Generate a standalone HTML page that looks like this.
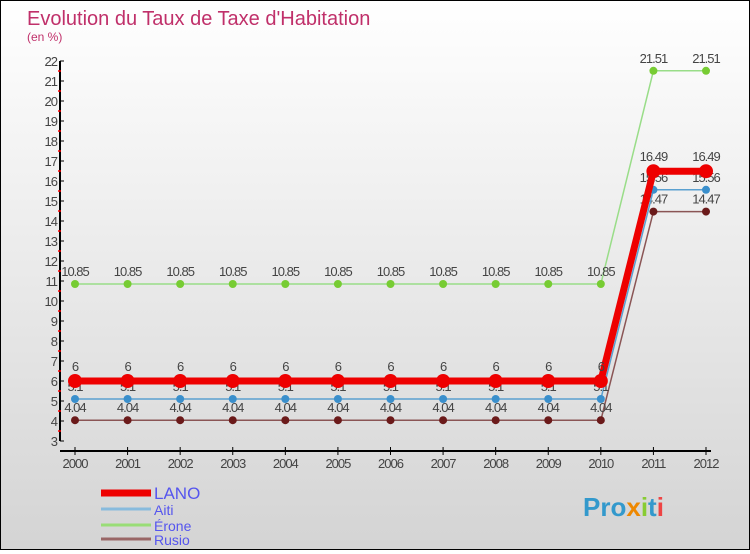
<!DOCTYPE html>
<html><head><meta charset="utf-8"><style>
body{margin:0;width:750px;height:550px;overflow:hidden;font-family:"Liberation Sans",sans-serif}
#wrap{position:relative;width:748px;height:548px;border:1px solid #000;background:linear-gradient(#fff,#d4d4d4)}
</style></head><body>
<div id="wrap">
<svg id="c" width="748" height="548">
<text x="26" y="24" font-size="20" fill="#c0306a">Evolution du Taux de Taxe d'Habitation</text>
<text x="26" y="40" font-size="12" fill="#c0306a">(en %)</text>
</svg>
</div>
<script>
const years=[2000,2001,2002,2003,2004,2005,2006,2007,2008,2009,2010,2011,2012];
const lano=[6,6,6,6,6,6,6,6,6,6,6,16.49,16.49];
const aiti=[5.1,5.1,5.1,5.1,5.1,5.1,5.1,5.1,5.1,5.1,5.1,15.56,15.56];
const erone=[10.85,10.85,10.85,10.85,10.85,10.85,10.85,10.85,10.85,10.85,10.85,21.51,21.51];
const rusio=[4.04,4.04,4.04,4.04,4.04,4.04,4.04,4.04,4.04,4.04,4.04,14.47,14.47];
const yTicks=[3,4,5,6,7,8,9,10,11,12,13,14,15,16,17,18,19,20,21,22];
const names=["LANO","Aiti","Érone","Rusio"];
const NS="http://www.w3.org/2000/svg",svg=document.getElementById('c');
const X=i=>74+i*(631/12), Y=v=>440-(v-3)*20;
function el(t,a,p){const e=document.createElementNS(NS,t);for(const k in a)e.setAttribute(k,a[k]);(p||svg).appendChild(e);return e;}
let e=el('line',{x1:59,y1:Y(22),x2:59,y2:Y(3),stroke:'#000','stroke-width':2});


e=el('line',{x1:59,y1:450,x2:710,y2:450,stroke:'#000','stroke-width':2});


yTicks.forEach(v=>{
 el('line',{x1:59,y1:Y(v),x2:63,y2:Y(v),stroke:'#000'});
 if(v<22)el('line',{x1:57,y1:Y(v+0.5),x2:60,y2:Y(v+0.5),stroke:'#f00','stroke-width':1.5});
 const t=el('text',{x:56,y:Y(v)+5,'font-size':13,fill:'#444','text-anchor':'end','letter-spacing':'-1'});
 t.textContent=v;
 
 
});
years.forEach((y,i)=>{
 el('line',{x1:X(i),y1:446,x2:X(i),y2:454,stroke:'#000'});
 const t=el('text',{x:X(i),y:467,'font-size':13,fill:'#444','text-anchor':'middle','letter-spacing':'-1'});
 t.textContent=y;
 
 
});
function series(d,color,lineColor,w,r,name,lblOff){
 const p=el('polyline',{points:d.map((v,i)=>X(i)+','+Y(v)).join(' '),fill:'none',stroke:lineColor,'stroke-width':w});
 
 
 d.forEach((v,i)=>{
  const c=el('circle',{cx:X(i),cy:Y(v),r:r,fill:color});
  
  
  const t=el('text',{x:X(i),y:Y(v)+lblOff,'font-size':13,fill:'#444','text-anchor':'middle','letter-spacing':'-1'});
  t.textContent=v;
  
  
 });
}
series(erone,'#77cc33','#99dd88',1.5,4,'erone',-8);
series(rusio,'#6b1a1a','#8a5555',1.5,4,'rusio',-8);
series(aiti,'#3a8fcc','#5aa0d0',1.5,4,'aiti',-8);
series(lano,'#ee0000','#ee0000',7,7,'lano',-10);
const lc=['#ee0000','#88bbdd','#99dd77','#996666'],lw=[7,3,3,3],ly=[492,508,524,538];
names.forEach((n,k)=>{
 const l=el('line',{x1:100,y1:ly[k],x2:150,y2:ly[k],stroke:lc[k],'stroke-width':lw[k]});
 
 
 const t=el('text',{x:153,y:ly[k]+6,'font-size':k?14:17,fill:'#5555ee'});
 t.textContent=n;
 
 
});
const lg=el('text',{x:582,y:515,'font-size':26,'font-weight':'bold',fill:'#3399cc'});


[['Pro','#3399cc'],['x','#ee8800'],['i','#88cc33'],['t','#3399cc'],['i','#ee4444']].forEach(([s,c])=>{const ts=el('tspan',{fill:c},lg);ts.textContent=s;});
</script>
</body></html>
